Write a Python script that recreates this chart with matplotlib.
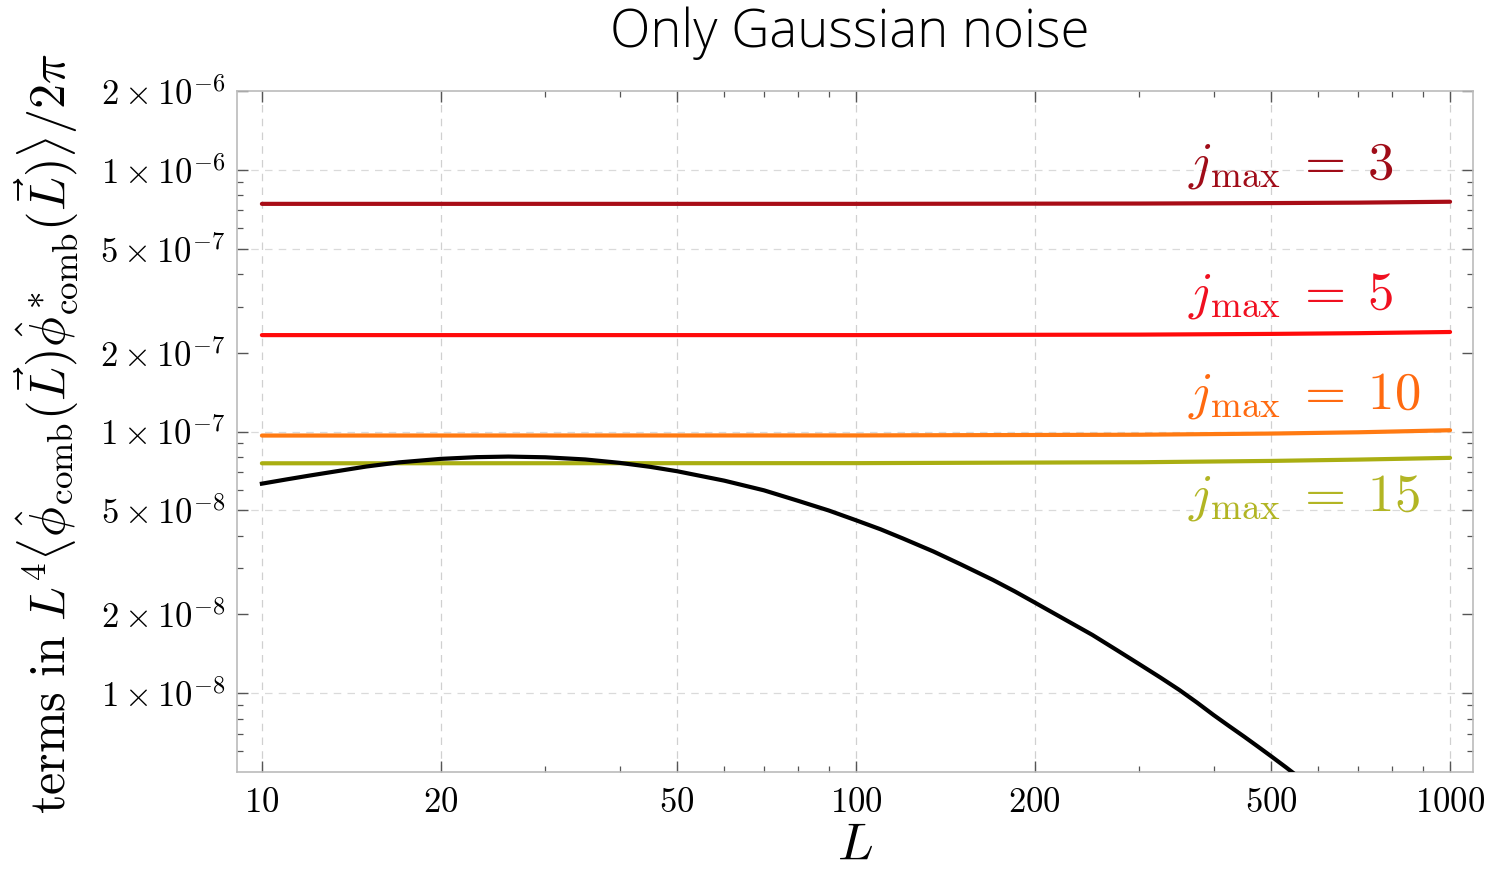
import matplotlib
matplotlib.use("Agg")
import matplotlib.pyplot as plt
from matplotlib.ticker import FixedLocator, NullFormatter, FixedFormatter

plt.rcParams["mathtext.fontset"] = "cm"

# Multipole values and curve samples
L_flat = [10, 100, 300, 500, 700, 1000]
jmax3 = [7.41e-7, 7.41e-7, 7.43e-7, 7.46e-7, 7.49e-7, 7.55e-7]
jmax5 = [2.335e-7, 2.335e-7, 2.345e-7, 2.36e-7, 2.375e-7, 2.40e-7]
jmax10 = [9.65e-8, 9.66e-8, 9.72e-8, 9.82e-8, 9.93e-8, 1.011e-7]
jmax15 = [7.56e-8, 7.57e-8, 7.63e-8, 7.72e-8, 7.81e-8, 7.93e-8]

L_gauss = [10, 11, 12, 13, 15, 17, 20, 23, 26, 30, 35, 40, 45, 50, 60, 70,
           80, 90, 100, 110, 120, 135, 150, 170, 185, 200, 225, 250, 275, 300,
           325, 350, 375, 400, 425, 450, 475, 500, 530, 560]
gauss_term = [6.32e-8, 6.56e-8, 6.78e-8, 6.98e-8, 7.35e-8, 7.62e-8, 7.86e-8,
              7.98e-8, 8.02e-8, 7.97e-8, 7.82e-8, 7.59e-8, 7.33e-8, 7.05e-8,
              6.49e-8, 5.96e-8, 5.43e-8, 4.99e-8, 4.58e-8, 4.23e-8, 3.90e-8,
              3.48e-8, 3.11e-8, 2.71e-8, 2.45e-8, 2.22e-8, 1.91e-8, 1.67e-8,
              1.46e-8, 1.29e-8, 1.15e-8, 1.03e-8, 9.21e-9, 8.25e-9, 7.48e-9,
              6.83e-9, 6.25e-9, 5.74e-9, 5.20e-9, 4.72e-9]

series_labels = [r"$j_{\rm max}\;=\;3$", r"$j_{\rm max}\;=\;5$",
                 r"$j_{\rm max}\;=\;10$", r"$j_{\rm max}\;=\;15$"]
line_colors = ["#A80C16", "#FF0A0A", "#FF7A12", "#A9AE12"]
text_colors = ["#A00C18", "#F01020", "#FF6A10", "#B2B524"]

x_major = [10, 20, 50, 100, 200, 500, 1000]
y_major = [2e-6, 1e-6, 5e-7, 2e-7, 1e-7, 5e-8, 2e-8, 1e-8]
y_major_labels = [r"$2\times10^{-6}$", r"$1\times10^{-6}$", r"$5\times10^{-7}$",
                  r"$2\times10^{-7}$", r"$1\times10^{-7}$", r"$5\times10^{-8}$",
                  r"$2\times10^{-8}$", r"$1\times10^{-8}$"]
y_grid = [1e-6, 5e-7, 1e-7, 5e-8, 1e-8]

fig = plt.figure(figsize=(14.97, 8.69), dpi=100)
ax = fig.add_axes([237 / 1497, 1 - 772 / 869, 1236 / 1497, 681 / 869])
ax.set_xscale("log")
ax.set_yscale("log")
ax.set_xlim(9.08, 1093)
ax.set_ylim(5e-9, 2e-6)

# grid
for xv in x_major:
    ax.axvline(xv, color="#D0D0D0", lw=0.9, ls=(0, (6, 5)), zorder=0)
for yv in y_grid:
    ax.axhline(yv, color="#DADADA", lw=0.9, ls=(0, (6, 5)), zorder=0)

for vals, c in zip([jmax3, jmax5, jmax10, jmax15], line_colors):
    ax.plot(L_flat, vals, color=c, lw=3.0, solid_capstyle="round", zorder=3)
ax.plot(L_gauss, gauss_term, color="black", lw=3.0, zorder=4,
        solid_joinstyle="round")

label_y = [0.891, 0.700, 0.554, 0.404]
for lab, c, yy in zip(series_labels, text_colors, label_y):
    ax.text(0.7694, yy, lab, transform=ax.transAxes, color=c, fontsize=38,
            ha="left", va="center")

# ticks
ax.xaxis.set_major_locator(FixedLocator(x_major))
ax.xaxis.set_major_formatter(FixedFormatter([r"$%d$" % v for v in x_major]))
x_minor = [30, 40, 60, 70, 80, 90, 300, 400, 600, 700, 800, 900]
ax.xaxis.set_minor_locator(FixedLocator(x_minor))
ax.xaxis.set_minor_formatter(NullFormatter())

ax.yaxis.set_major_locator(FixedLocator(y_major))
ax.yaxis.set_major_formatter(FixedFormatter(y_major_labels))
y_minor = [m * 10.0 ** e for e in (-9, -8, -7) for m in (3, 4, 6, 7, 8, 9)]
y_minor = [v for v in y_minor if 5e-9 < v < 2e-6]
ax.yaxis.set_minor_locator(FixedLocator(y_minor))
ax.yaxis.set_minor_formatter(NullFormatter())

ax.tick_params(which="both", direction="in", top=True, right=True,
               color="#555555", labelsize=25)
ax.tick_params(which="major", length=8, width=1.0)
ax.tick_params(which="minor", length=4, width=0.9)
ax.tick_params(axis="x", pad=9)
ax.tick_params(axis="y", pad=8)

for s in ax.spines.values():
    s.set_color("#BBBBBB")
    s.set_linewidth(1.2)

ax.set_xlabel(r"$L$", fontsize=38)
ax.xaxis.set_label_coords(0.5, -0.068)
ax.set_ylabel(r"$\mathrm{terms\ in}\ L^4\langle\hat{\phi}_{\rm comb}(\vec{L})\hat{\phi}^*_{\rm comb}(\vec{L})\rangle/2\pi$",
              fontsize=36)
ax.yaxis.set_label_coords(-0.127, 0.497)

fig.text(850 / 1497, 1 - 33 / 869, "Only Gaussian noise", family="Open Sans",
         weight="light", fontsize=38, ha="center", va="center")

fig.savefig("out.png", dpi=100)
